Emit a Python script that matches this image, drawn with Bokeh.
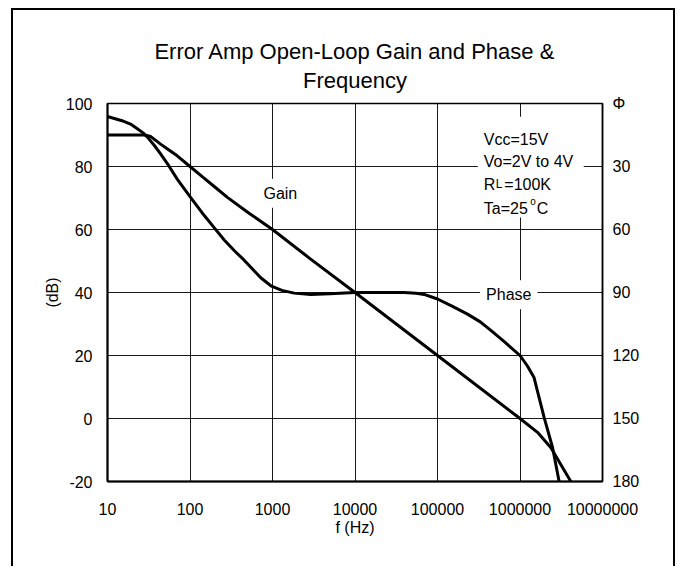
from bokeh.plotting import figure
from bokeh.models import (Range1d, LinearAxis, FixedTicker, NumeralTickFormatter,
                          Label, BoxAnnotation, Title)
from bokeh.embed import file_html
from bokeh.resources import INLINE

# ---- data ----
gain_freq = [10, 20, 28, 33.5, 44, 55, 70, 100, 148, 200, 284, 500, 1000, 2900,
             10000, 100000, 1000000, 1630000, 2360000, 4130000]
gain_db = [90, 90, 90, 89.5, 87.1, 85.3, 83.4, 80, 76.3, 73.5, 70.2, 65.5, 60, 50.6,
           40, 20, 0, -4.4, -9.2, -20]

phase_freq = [10, 15, 19, 23, 27, 30.5, 37, 44, 55, 70, 100, 140, 195, 260, 343, 450,
              546, 720, 955, 1300, 1830, 2900, 5000, 10000, 20000, 39400, 55000, 68800,
              100000, 150000, 231000, 330000, 443000, 650000, 1000000, 1230000, 1480000,
              1960000, 2480000, 2980000]
phase_deg = [6.2, 8.2, 9.8, 12, 14, 16, 20, 24, 29.5, 36, 44.4, 52, 59, 65, 70, 74.5,
             78, 83, 86.8, 89, 90.3, 91, 90.6, 90, 90, 90, 90.4, 90.9,
             93.1, 96.5, 100.3, 104, 108, 113.5, 120, 125, 130.5,
             149.5, 163.8, 180]

x_ticks = [10, 100, 1000, 10000, 100000, 1000000, 10000000]
db_ticks = [-20, 0, 20, 40, 60, 80, 100]
phase_ticks = [0, 30, 60, 90, 120, 150, 180]

title_line1 = "Error Amp Open-Loop Gain and Phase &"
title_line2 = "Frequency"

FONT = "Liberation Sans"
BLACK = "#000000"

p = figure(width=664, height=558, x_axis_type="log",
           x_range=Range1d(10, 1e7), y_range=Range1d(-20, 100),
           output_backend="svg", toolbar_location=None, title=None,
           min_border_left=94, min_border_right=75,
           min_border_top=93, min_border_bottom=87)
p.styles = {"border-top": "2px solid black", "border-left": "2px solid black",
            "border-right": "2px solid black",
            "margin-left": "11px", "margin-top": "8px"}

p.extra_y_ranges = {"phase": Range1d(start=180, end=0)}

p.add_layout(Title(text=title_line2, align="center", text_font=FONT,
                   text_font_size="22px", text_font_style="normal",
                   text_color=BLACK, standoff=22), "above")
p.add_layout(Title(text=title_line1, align="center", text_font=FONT,
                   text_font_size="22px", text_font_style="normal",
                   text_color=BLACK, standoff=-18), "above")

p.outline_line_color = BLACK
p.outline_line_width = 1.5
p.background_fill_color = "white"
p.border_fill_color = "white"

# x axis
p.xaxis.ticker = FixedTicker(ticks=x_ticks)
p.xaxis.formatter = NumeralTickFormatter(format="0")
p.xgrid.ticker = p.xaxis.ticker
p.xaxis.axis_label = "f (Hz)"
p.xaxis.major_label_standoff = 21
p.xaxis.axis_label_standoff = 1

# left axis
p.yaxis.ticker = FixedTicker(ticks=db_ticks)
p.yaxis.formatter = NumeralTickFormatter(format="0")
p.ygrid.ticker = p.yaxis.ticker
p.yaxis.axis_label = "(dB)"
p.yaxis.major_label_standoff = 15
p.yaxis.axis_label_standoff = 2

# right axis
raxis = LinearAxis(y_range_name="phase", ticker=FixedTicker(ticks=phase_ticks),
                   major_label_overrides={0: "Φ"})
raxis.major_label_standoff = 10
p.add_layout(raxis, "right")

for ax in [p.xaxis[0], p.yaxis[0], raxis]:
    ax.axis_line_color = BLACK
    ax.axis_line_width = 2
    ax.major_tick_line_color = None
    ax.minor_tick_line_color = None
    ax.major_tick_out = 0
    ax.major_tick_in = 0
    ax.minor_tick_out = 0
    ax.minor_tick_in = 0
    ax.major_label_text_font = FONT
    ax.major_label_text_font_size = "16px"
    ax.major_label_text_color = BLACK
    ax.axis_label_text_font = FONT
    ax.axis_label_text_font_size = "16px"
    ax.axis_label_text_font_style = "normal"
    ax.axis_label_text_color = BLACK
raxis.axis_line_width = 1.5

for g in [p.xgrid[0], p.ygrid[0]]:
    g.grid_line_color = BLACK
    g.grid_line_width = 1
    g.grid_line_alpha = 0.9
    g.minor_grid_line_color = None

# curves
p.line(gain_freq, gain_db, line_color=BLACK, line_width=3, line_join="round")
p.line(phase_freq, phase_deg, y_range_name="phase", line_color=BLACK,
       line_width=3, line_join="round")

# labels
lab_kw = dict(text_font=FONT, text_font_size="16px", text_color=BLACK,
              background_fill_color="white", background_fill_alpha=1.0,
              text_align="center", text_baseline="middle", padding=6)
p.add_layout(Label(x=1245, y=71.5, text="Gain", **lab_kw))
p.add_layout(Label(x=731000, y=39.3, text="Phase", **lab_kw))

# conditions box
p.add_layout(BoxAnnotation(left=308000, right=5.93e6, bottom=63.8, top=95.8,
                           fill_color="white", fill_alpha=1.0, line_color=None))
cx = 364000
base = [88.67, 81.59, 74.29, 66.76]
t_kw = dict(text_font=FONT, text_font_size="16px", text_color=BLACK,
            text_align="left", text_baseline="alphabetic")
p.add_layout(Label(x=cx, y=base[0], text="Vcc=15V", **t_kw))
p.add_layout(Label(x=cx, y=base[1], text="Vo=2V to 4V", **t_kw))
p.add_layout(Label(x=cx, y=base[2], text="R", **t_kw))
p.add_layout(Label(x=cx, y=base[2], x_offset=12, text="L", text_font=FONT,
                   text_font_size="12px", text_color=BLACK, text_align="left",
                   text_baseline="alphabetic"))
p.add_layout(Label(x=cx, y=base[2], x_offset=20.5, text="=100K", **t_kw))
p.add_layout(Label(x=cx, y=base[3], text="Ta=25", **t_kw))
p.add_layout(Label(x=cx, y=base[3], x_offset=46.5, y_offset=7, text="o",
                   text_font=FONT, text_font_size="10px", text_color=BLACK,
                   text_align="left", text_baseline="alphabetic"))
p.add_layout(Label(x=cx, y=base[3], x_offset=53, text="C", **t_kw))

open("out.html", "w").write(file_html(p, INLINE))
